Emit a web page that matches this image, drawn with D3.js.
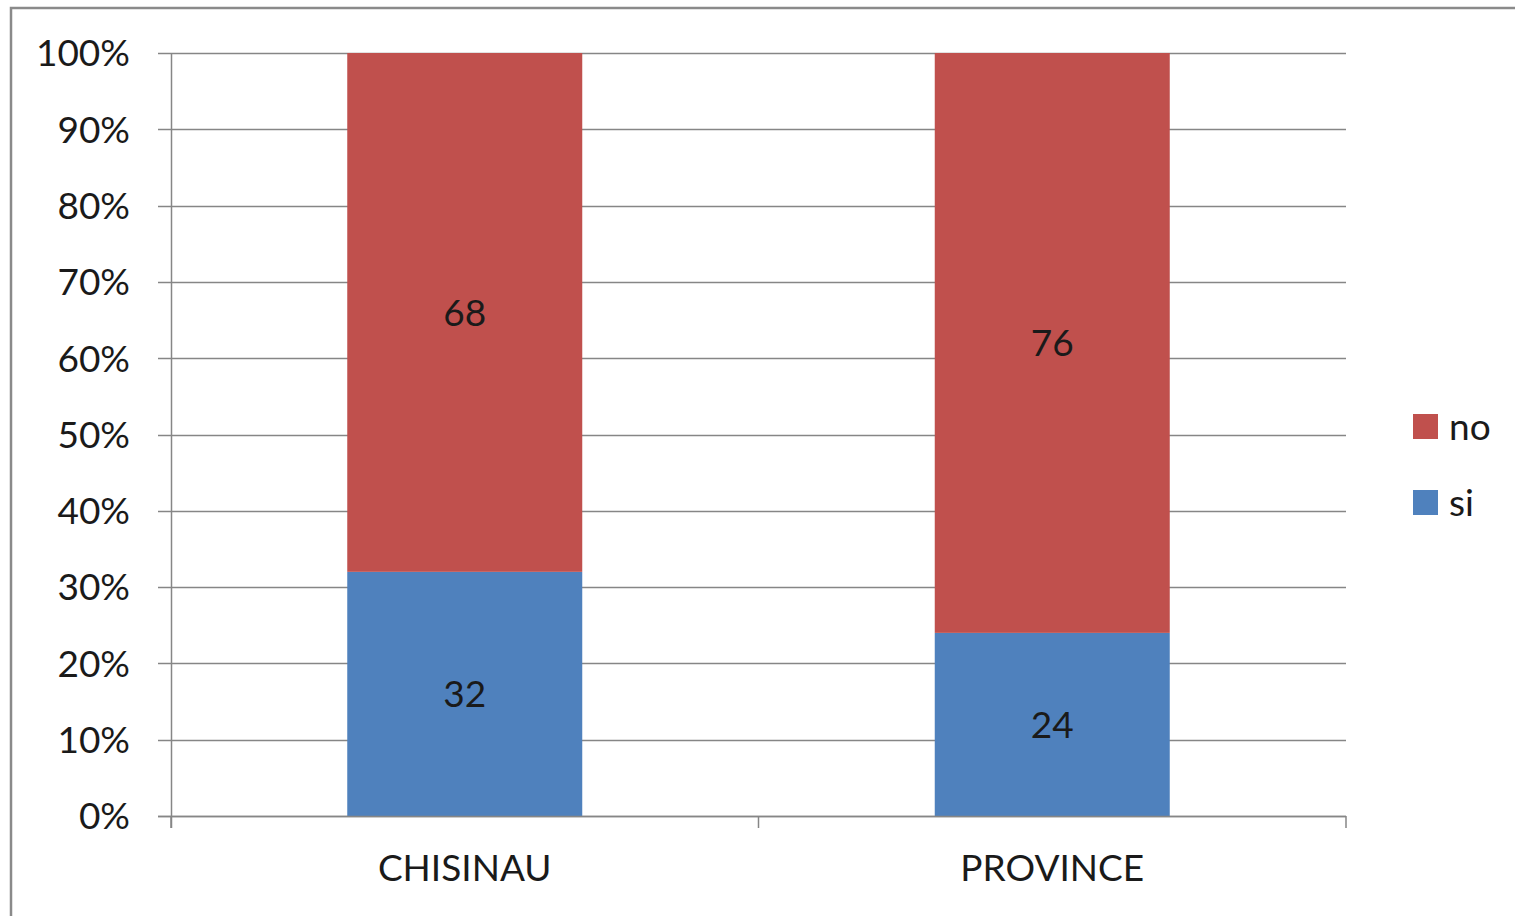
<!DOCTYPE html>
<html>
<head>
<meta charset="utf-8">
<script src="https://cdn.jsdelivr.net/npm/d3@7"></script>
<style>
  body{margin:0;background:#fff;overflow:hidden;}
  text{font-family:Lato,"Open Sans",sans-serif;}
</style>
</head>
<body>
<script>
// stacked 100% bars, si / no

var categories = ['CHISINAU','PROVINCE'],
    siValues = [32,24],
    noValues = [68,76],
    seriesNames = ['no','si'],
    yTicks = [0,10,20,30,40,50,60,70,80,90,100];

var outerWidth = 1515,
    outerHeight = 916,
    margin = {left:171,right:169,top:53,bottom:100},
    innerWidth = outerWidth-margin.left-margin.right,
    innerHeight = outerHeight-margin.top-margin.bottom,
    fontSize = 37,
    colors = {no:'#c0504d',si:'#4f81bd'};

var svg = d3.select('body').append('svg')
  .attr('width',outerWidth)
  .attr('height',outerHeight)
  .style('display','block');

// chart frame (top and left edges visible)
svg.append('path')
  .attr('d','M11,'+outerHeight+'V8H'+outerWidth)
  .attr('fill','none')
  .attr('stroke','#8a8a8a')
  .attr('stroke-width',2.5);

var g = svg.append('g')
  .attr('transform','translate('+margin.left+','+margin.top+')');

var xScale = d3.scaleBand().domain(categories).range([0,innerWidth]).paddingInner(0.6).paddingOuter(0.3);
var yScale = d3.scaleLinear().domain([0,100]).range([innerHeight,0]);

var data = categories.map(function(c,i){ return {cat:c, si:siValues[i], no:noValues[i]}; });
var stack = d3.stack().keys(['si','no'])(data);

// gridlines
g.selectAll('.grid').data(yTicks).enter().append('line')
  .attr('x1',-13).attr('x2',innerWidth)
  .attr('y1',function(d){return Math.round(yScale(d))+0.5;})
  .attr('y2',function(d){return Math.round(yScale(d))+0.5;})
  .attr('stroke','#868686')
  .attr('stroke-width',1.5);

// y labels
g.selectAll('.ylab').data(yTicks).enter().append('text')
  .attr('x',-41)
  .attr('y',function(d){return yScale(d);})
  .attr('dy','0.36em')
  .attr('text-anchor','end')
  .attr('font-size',fontSize)
  .attr('fill','#1a1a1a')
  .text(function(d){return d+'%';});

// y axis line
g.append('line')
  .attr('x1',0.5).attr('x2',0.5)
  .attr('y1',0).attr('y2',innerHeight+12)
  .attr('stroke','#868686').attr('stroke-width',1.5);

// x tick marks at category boundaries
var step = innerWidth/categories.length;
g.selectAll('.xtick').data(d3.range(categories.length+1)).enter().append('line')
  .attr('x1',function(d){return d*step;})
  .attr('x2',function(d){return d*step;})
  .attr('y1',innerHeight).attr('y2',innerHeight+12)
  .attr('stroke','#868686').attr('stroke-width',1.5);

// bars
var layers = g.selectAll('.layer').data(stack).enter().append('g')
  .attr('fill',function(d){return colors[d.key];});

layers.selectAll('rect').data(function(d){return d;}).enter().append('rect')
  .attr('x',function(d){return xScale(d.data.cat);})
  .attr('width',xScale.bandwidth())
  .attr('y',function(d){return yScale(d[1]);})
  .attr('height',function(d){return yScale(d[0])-yScale(d[1]);});

layers.selectAll('text').data(function(d){return d;}).enter().append('text')
  .attr('x',function(d){return xScale(d.data.cat)+xScale.bandwidth()/2;})
  .attr('y',function(d){return (yScale(d[0])+yScale(d[1]))/2;})
  .attr('dy','0.36em')
  .attr('text-anchor','middle')
  .attr('font-size',fontSize)
  .attr('fill','#1a1a1a')
  .text(function(d){return d[1]-d[0];});

// x axis line
g.append('line')
  .attr('x1',-13).attr('x2',innerWidth)
  .attr('y1',innerHeight+0.5).attr('y2',innerHeight+0.5)
  .attr('stroke','#868686').attr('stroke-width',1.5);

// x labels
g.selectAll('.xlab').data(categories).enter().append('text')
  .attr('x',function(d){return xScale(d)+xScale.bandwidth()/2;})
  .attr('y',innerHeight+65)
  .attr('text-anchor','middle')
  .attr('font-size',fontSize)
  .attr('fill','#1a1a1a')
  .text(function(d){return d;});

// legend
var legend = svg.selectAll('.legend').data(seriesNames).enter().append('g')
  .attr('transform',function(d,i){return 'translate(1413,'+(414+i*76)+')';});
legend.append('rect')
  .attr('width',25).attr('height',25)
  .attr('fill',function(d){return colors[d];});
legend.append('text')
  .attr('x',36).attr('y',12.5)
  .attr('dy','0.36em')
  .attr('font-size',fontSize)
  .attr('fill','#1a1a1a')
  .text(function(d){return d;});
</script>
</body>
</html>
